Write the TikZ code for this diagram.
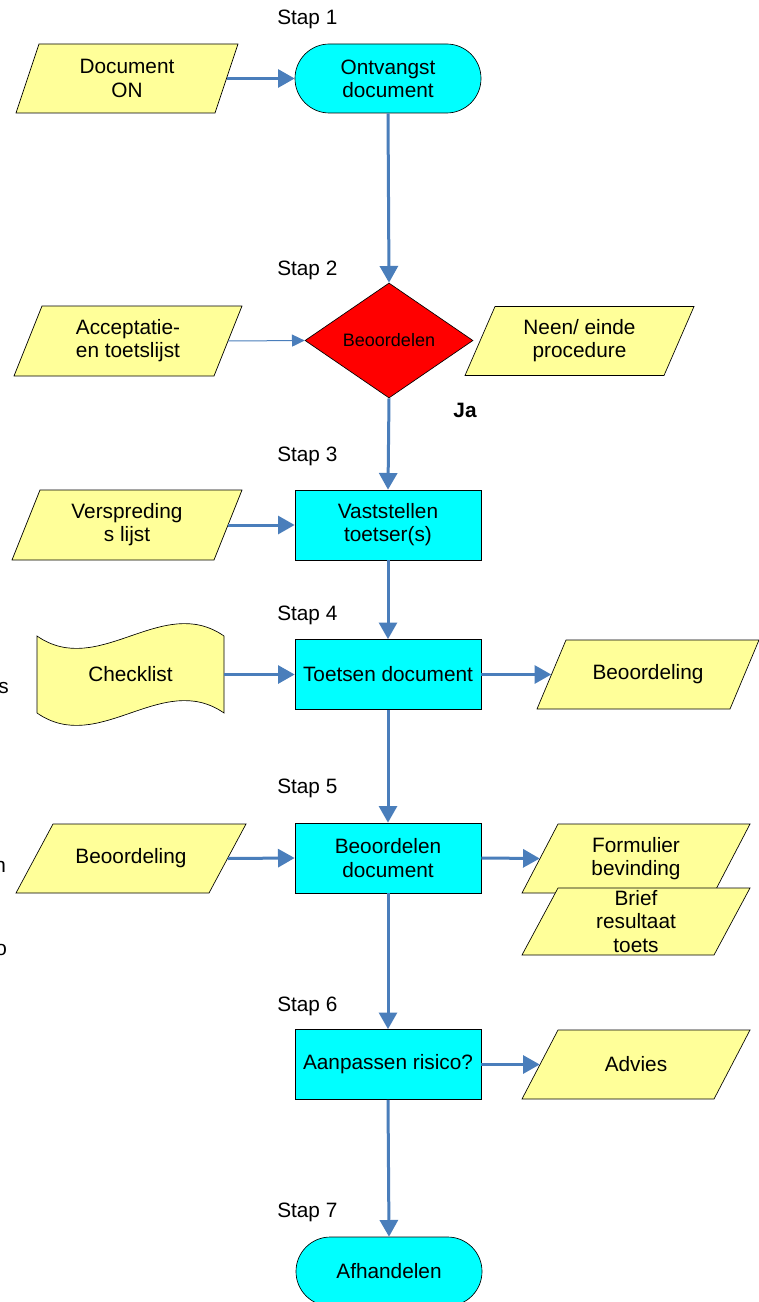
\documentclass[tikz,border=0pt]{standalone}
\usepackage{fontspec}
\setmainfont{Liberation Sans}
\usetikzlibrary{arrows.meta,shapes.geometric}
\definecolor{arrowblue}{RGB}{74,126,187}
\definecolor{paleyellow}{RGB}{255,255,153}
\definecolor{boxcyan}{RGB}{0,255,255}
\tikzset{
  txt/.style={font=\fontsize{15.6}{17.4}\selectfont, align=center},
  parashape/.style={draw=black, line width=0.5pt, fill=paleyellow, line join=miter},
  paratext/.style={rectangle, txt, inner sep=0pt},
  procbox/.style={rectangle, draw=black, line width=0.5pt, fill=boxcyan, txt,
    minimum width=139.5pt, minimum height=52.5pt, inner sep=0pt},
  termbox/.style={rectangle, rounded corners=25.8pt, draw=black, line width=0.5pt,
    fill=boxcyan, txt, minimum width=139.5pt, minimum height=51.75pt, inner sep=0pt},
  flow/.style={draw=arrowblue, line width=2.25pt, -{Triangle[length=12.5pt,width=13.5pt]}},
  thinflow/.style={draw=arrowblue, line width=0.75pt, -{Triangle[length=9.5pt,width=9pt]}},
  steplabel/.style={txt, anchor=west, inner sep=0pt},
}
% #1 name, #2 cx, #3 cy, #4 total width, #5 height, #6 slant, #7 text (all in px)
\newcommand\myparanode[7]{%
  \filldraw[parashape] ({#2-#4/2+#6},{#3-#5/2}) -- ({#2+#4/2},{#3-#5/2})
    -- ({#2+#4/2-#6},{#3+#5/2}) -- ({#2-#4/2},{#3+#5/2}) -- cycle;
  \node[paratext, minimum width={(#4-#6)*0.75pt}, minimum height={#5*0.75pt}]
    (#1) at (#2,#3) {#7};}
\begin{document}
\begin{tikzpicture}[x=0.75pt, y=-0.75pt]
\useasboundingbox (0,0) rectangle (759,1302);
\clip (0,0) rectangle (759,1302);
\fill[white] (0,0) rectangle (759,1302);

% step labels
\node[steplabel] (s1) at (277,19) {Stap 1};
\node[steplabel] (s2) at (277,270) {Stap 2};
\node[steplabel] (s3) at (277,456) {Stap 3};
\node[steplabel] (s4) at (277,615) {Stap 4};
\node[steplabel] (s5) at (277,788) {Stap 5};
\node[steplabel] (s6) at (277,1006) {Stap 6};
\node[steplabel] (s7) at (277,1212) {Stap 7};

% cut-off letters at the left edge (cut off in the reference too)
\node[txt, anchor=west, inner sep=0pt] (cs) at (-2,688) {s};
\node[txt, anchor=west, inner sep=0pt] (cn) at (-6,867) {n};
\node[txt, anchor=west, inner sep=0pt] (co) at (-5,950) {o};

% main column
\node[termbox] (ontv) at (388,78.5) {Ontvangst\\document};
\node[diamond, draw=black, line width=0.5pt, fill=red, inner sep=0pt,
  minimum width=126pt, minimum height=86.25pt,
  font=\fontsize{13.5}{16}\selectfont] (beo) at (389,340.5) {Beoordelen};
\node[procbox] (vast) at (388,525) {Vaststellen\\toetser(s)};
\node[procbox] (toets) at (388,674.5) {Toetsen document};
\node[procbox] (beodoc) at (388,858) {Beoordelen\\document};
\node[procbox] (aanp) at (388,1064.5) {Aanpassen risico?};
\node[termbox] (afh) at (389,1271.5) {Afhandelen};

% left inputs
\myparanode{docon}{127}{78.5}{222}{69}{23}{Document\\ON}
\myparanode{accept}{128}{341}{228}{70}{28}{Acceptatie-\\en toetslijst}
\myparanode{versp}{127}{525}{230}{70}{28}{Verspreding\\s lijst}
\fill[paleyellow, draw=black, line width=0.5pt]
  (37,636) .. controls (99,679) and (162,593) .. (224,636)
  -- (224,713) .. controls (162,670) and (99,756) .. (37,713) -- cycle;
\node[txt, minimum width=140.25pt, minimum height=57.75pt, inner sep=0pt]
  (check) at (130.5,674.5) {Checklist};
\myparanode{beoL}{131}{858.5}{230}{69}{37}{Beoordeling}

% right outputs
\myparanode{neen}{579.5}{341}{229}{69}{30}{Neen/ einde\\procedure}
\myparanode{beoR}{648}{674.5}{222}{69}{29}{Beoordeling}
\myparanode{form}{636}{858.5}{228}{69}{36}{Formulier\\bevinding}
\myparanode{brief}{636}{921.5}{228}{67}{36}{Brief\\resultaat\\toets}
\myparanode{advies}{636}{1064.5}{228}{69}{36}{Advies}

\node[font=\fontsize{15.6}{17.4}\selectfont\bfseries, inner sep=0pt] (ja) at (465,410) {Ja};

% vertical flow
\draw[flow] (ontv.south) -- (beo.north);
\draw[flow] (beo.south) -- (vast.north);
\draw[flow] (vast.south) -- (toets.north);
\draw[flow] (toets.south) -- (beodoc.north);
\draw[flow] (beodoc.south) -- (aanp.north);
\draw[flow] (aanp.south) -- (afh.north);

% horizontal flows
\draw[flow] (docon.east) -- (ontv.west);
\draw[thinflow] (accept.east) -- (beo.west);
\draw[flow] (versp.east) -- (vast.west);
\draw[flow] (check.east) -- (toets.west);
\draw[flow] (toets.east) -- (beoR.west);
\draw[flow] (beoL.east) -- (beodoc.west);
\draw[flow] (beodoc.east) -- (form.west);
\draw[flow] (aanp.east) -- (advies.west);
\end{tikzpicture}
\end{document}
